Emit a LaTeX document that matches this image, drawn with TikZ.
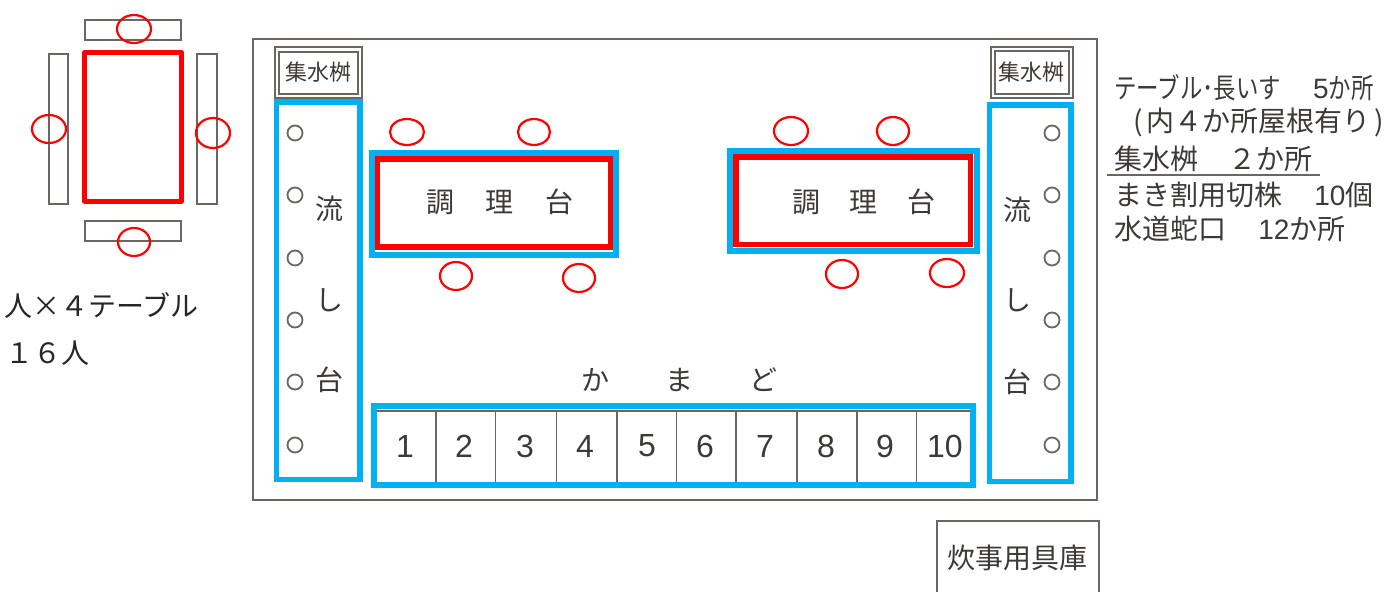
\documentclass[tikz,border=0pt]{standalone}
\usepackage{fontspec}
\setmainfont{Noto Sans CJK JP}
\newfontfamily\narrowfont[FakeStretch=0.8]{Noto Sans CJK JP}
\newfontfamily\digitfont{Liberation Sans}
\definecolor{sinkblue}{RGB}{0, 176, 240}
\definecolor{seatred}{RGB}{255, 0, 0}
\definecolor{wallgray}{RGB}{107, 102, 95}
\definecolor{inkgray}{RGB}{60, 57, 54}
\usetikzlibrary{positioning}
\tikzset{
  wall/.style={draw=wallgray, line width=1pt},
  bluebox/.style={draw=sinkblue, line width=3pt},
  redbox/.style={draw=seatred, line width=2.8pt},
  seat/.style={draw=seatred, line width=1.1pt},
  faucet/.style={draw=wallgray, line width=0.9pt},
  label/.style={text=inkgray, font=\fontsize{14}{14}\selectfont, inner sep=0pt},
  smalllabel/.style={label, font=\fontsize{11}{11}\selectfont},
  numlabel/.style={label, font=\fontsize{16}{16}\selectfont\digitfont},
  listline/.style={label, anchor=west}
}

\begin{document}
\begin{tikzpicture}[x=0.5pt, y=-0.5pt]
  \useasboundingbox (0,0) rectangle (1389,591);

  % table for four
  \draw[wall] (85,20) rectangle (181,40);
  \draw[wall] (85,221) rectangle (181,241);
  \draw[wall] (49,54) rectangle (68,204);
  \draw[wall] (197,54) rectangle (217,204);
  \draw[redbox, line width=2.5pt, line join=round] (84.5,52.5) rectangle (181.5,201);
  \foreach \cx/\cy/\rx/\ry in {134/29/17/14, 134/242/16/14, 49/129/17/14, 213/133/17/15}
    \draw[seat] (\cx,\cy) ellipse ({\rx} and {\ry});
  \node[label, anchor=west, text=black!85] (perTable) at (4,305) {人\makebox[14pt]{×}４テーブル};
  \node[label, anchor=west, text=black!85] (total) at (5,353) {１６人};

  % site
  \draw[wall] (252.5,38.5) rectangle (1097,500);

  % catch basins
  \draw[wall] (275,47) rectangle (362,98);
  \draw[wall] (279,51.5) rectangle (358,94);
  \draw[wall] (991,47) rectangle (1073,98);
  \draw[wall] (994.5,51) rectangle (1069,94);
  \node[smalllabel] (basinL) at (318.5,72) {集水桝};
  \node[smalllabel] (basinR) at (1031.5,72) {集水桝};

  % sinks
  \draw[bluebox, line width=2.6pt] (276.5,102) rectangle (360,479.5);
  \draw[bluebox, line width=2.7pt] (989.5,105) rectangle (1071,481.5);
  \foreach \cy in {133, 195, 258, 320, 382, 445} {
    \draw[faucet] (295,\cy) circle (7.5);
    \draw[faucet] (1052,\cy) circle (7.5);
  }
  \node[label] (sinkLa) at (329,209) {流};
  \node[label] (sinkLb) at (329,300) {し};
  \node[label] (sinkLc) at (329,380) {台};
  \node[label] (sinkRa) at (1017,210) {流};
  \node[label] (sinkRb) at (1017,300) {し};
  \node[label] (sinkRc) at (1017,382) {台};

  % cooking tables
  \draw[bluebox] (372,153) rectangle (616,255);
  \draw[redbox] (377.5,159) rectangle (610.5,247);
  \draw[bluebox, line width=3.2pt] (730,151) rectangle (977,251);
  \draw[redbox] (736,157) rectangle (970.5,244.5);
  \node[label] (cookL) at (500,202) {調\hspace{16pt}理\hspace{16pt}台};
  \node[label] (cookR) at (864,202) {調\hspace{15pt}理\hspace{15pt}台};
  \foreach \cx/\cy/\rx/\ry in {407/132/17/13, 534/132/16/13, 456/276/16/14, 579/278/16/14,
                               791/131/17/14, 893/131/16/14, 842/274/16/14, 947/273/17/14}
    \draw[seat] (\cx,\cy) ellipse ({\rx} and {\ry});

  % stoves
  \node[label] (stoveTitle) at (679,380) {か\hspace{28pt}ま\hspace{28pt}ど};
  \draw[wall] (376,410.5) rectangle (972,483);
  \foreach \dx in {436, 495.5, 556.5, 617, 676.5, 736, 797, 857, 916.5}
    \draw[wall, line width=0.8pt] (\dx,410) -- (\dx,483);
  \draw[bluebox] (374,406) rectangle (973,485);
  \foreach \nx/\num in {405/1, 464/2, 525/3, 585/4, 647/5, 705/6, 765/7, 826/8, 885/9, 945/10}
    \node[numlabel] (stove\num) at (\nx,446) {\num};

  % storage
  \draw[wall] (936.5,592) |- (1099,521) -- (1099,592);
  \node[label] (storage) at (1017,558) {炊事用具庫};

  % list
  \node[listline] (listA) at (1114,88) {{\narrowfont テーブル･長いす}\hspace{16pt}{\digitfont 5}{\narrowfont か所}};
  \node[listline] (listB) at (1133,122) {(\hspace{2pt}内４か所屋根有り\hspace{2pt})};
  \node[listline] (listC) at (1114,159) {集水桝\hspace{15pt}２か所};
  \draw[wall] (1107,174.5) -- (1320,174.5);
  \node[listline] (listD) at (1114,195) {まき割用切株\hspace{16pt}{\digitfont 10}個};
  \node[listline] (listE) at (1114,229) {水道蛇口\hspace{16pt}{\digitfont 12}か所};
\end{tikzpicture}
\end{document}
